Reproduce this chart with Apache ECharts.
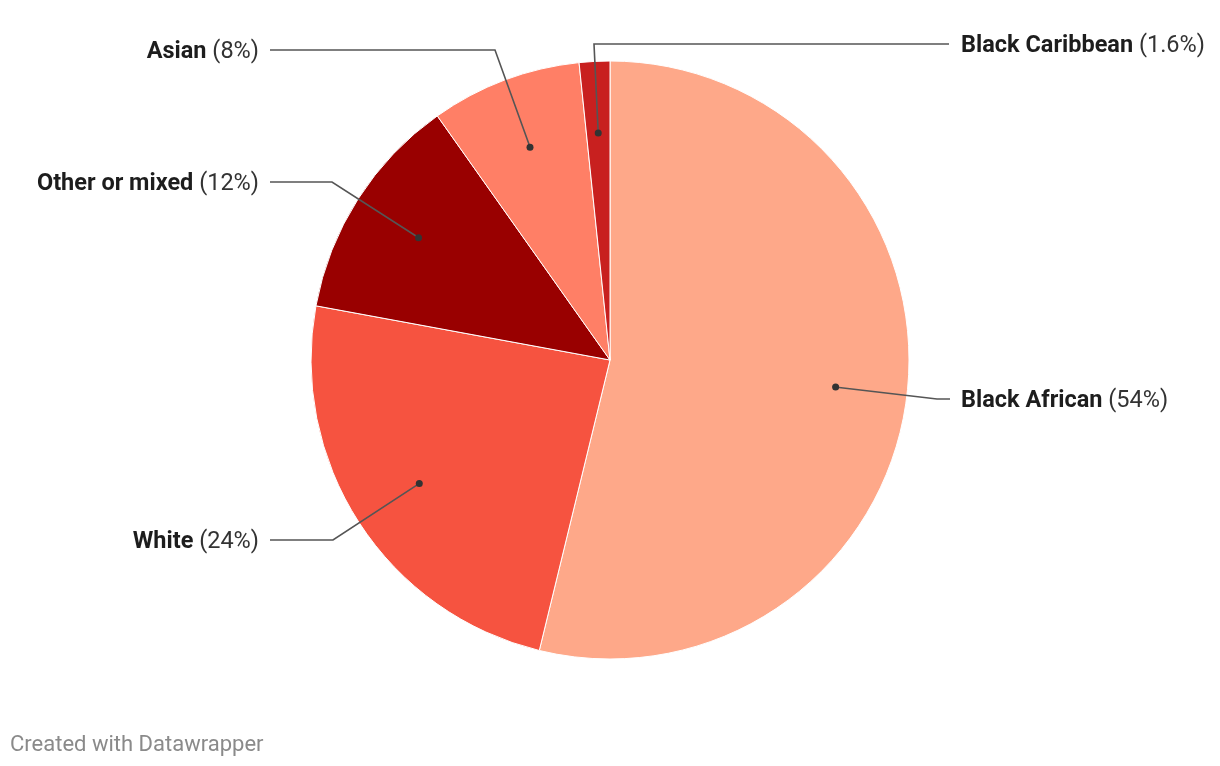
<!DOCTYPE html>
<html>
<head>
<meta charset="utf-8">
<script src="https://cdn.jsdelivr.net/npm/echarts@6/dist/echarts.min.js"></script>
<style>
  html, body { margin: 0; padding: 0; background: #fff; }
  #chart { width: 1220px; height: 766px; }
</style>
</head>
<body>
<div id="chart"></div>
<script>
// ---- data ----
const categories = ['Black African', 'White', 'Other or mixed', 'Asian', 'Black Caribbean'];
const shares = [53.8, 24.1, 12.3, 8.15, 1.65];          // slice sizes
const shareLabels = ['54%', '24%', '12%', '8%', '1.6%']; // percentages as printed in the labels
const sliceColors = ['#fea889', '#f65340', '#990000', '#ff7f66', '#c8201f'];

// ---- layout (label anchors and elbows, in pixels) ----
const CX = 610, CY = 360, R = 299;
const labelPlacement = [
  { x: 961, y: 399, align: 'left',  elbow: [937, 399], end: [950, 399] },
  { x: 259, y: 540, align: 'right', elbow: [333, 540], end: [270, 540] },
  { x: 259, y: 182, align: 'right', elbow: [332, 182], end: [270, 182] },
  { x: 259, y: 50,  align: 'right', elbow: [495, 50],  end: [270, 50] },
  { x: 961, y: 44,  align: 'left',  elbow: [594, 44],  end: [949, 44] }
];
const LABEL_DY = 2;

const total = shares.reduce((a, b) => a + b, 0);
function dotPoint(i) {
  let before = 0;
  for (let k = 0; k < i; k++) before += shares[k];
  const mid = (before + shares[i] / 2) / total * Math.PI * 2; // clockwise from top
  const rr = R * 0.75;
  return [CX + rr * Math.sin(mid), CY - rr * Math.cos(mid)];
}

const chart = echarts.init(document.getElementById('chart'), null, { renderer: 'canvas' });
chart.setOption({
  animation: false,
  backgroundColor: '#ffffff',
  title: {
    text: 'Created with Datawrapper',
    left: 10,
    top: 734,
    padding: 0,
    textStyle: { fontFamily: 'Roboto', fontSize: 22, fontWeight: 'normal', color: '#8a8a8a' }
  },
  series: [
    {
      // coloured slices
      type: 'pie',
      center: [CX, CY],
      radius: [0, R],
      startAngle: 90,
      clockwise: true,
      silent: true,
      z: 2,
      itemStyle: { borderColor: '#ffffff', borderWidth: 1 },
      label: { show: false },
      labelLine: { show: false },
      data: categories.map((name, i) => ({ name: name, value: shares[i], itemStyle: { color: sliceColors[i] } }))
    },
    {
      // labels and leader lines (drawn above the slices)
      type: 'pie',
      center: [CX, CY],
      radius: [0, R],
      startAngle: 90,
      clockwise: true,
      avoidLabelOverlap: false,
      silent: true,
      z: 5,
      itemStyle: { color: 'rgba(0,0,0,0)', borderWidth: 0 },
      label: {
        show: true,
        position: 'outside',
        fontFamily: 'Roboto',
        fontSize: 23.5,
        formatter: p => '{n|' + p.name + '} {p|(' + shareLabels[p.dataIndex] + ')}',
        rich: {
          n: { fontFamily: 'Roboto', fontSize: 23.5, fontWeight: 'bold', color: '#1d1d1d' },
          p: { fontFamily: 'Roboto', fontSize: 23.5, fontWeight: 'normal', color: '#333333' }
        }
      },
      labelLine: { show: true, lineStyle: { color: '#555555', width: 1.6 } },
      labelLayout: function (params) {
        const i = params.dataIndex;
        const lp = labelPlacement[i];
        return {
          x: lp.x,
          y: lp.y + LABEL_DY,
          align: lp.align,
          verticalAlign: 'middle',
          labelLinePoints: [dotPoint(i), lp.elbow, lp.end]
        };
      },
      data: categories.map((name, i) => ({ name: name, value: shares[i] }))
    },
    {
      // dots at the start of each leader line
      type: 'pie',
      center: [CX, CY],
      radius: [R * 0.5, R],
      startAngle: 90,
      clockwise: true,
      silent: true,
      avoidLabelOverlap: false,
      z: 6,
      itemStyle: { color: 'rgba(0,0,0,0)', borderWidth: 0 },
      label: {
        show: true,
        position: 'inside',
        formatter: '{d| }',
        rich: { d: { width: 7, height: 7, borderRadius: 3.5, backgroundColor: '#333333', fontSize: 1 } }
      },
      labelLine: { show: false },
      data: categories.map((name, i) => ({ name: name, value: shares[i] }))
    }
  ]
});
</script>
</body>
</html>
